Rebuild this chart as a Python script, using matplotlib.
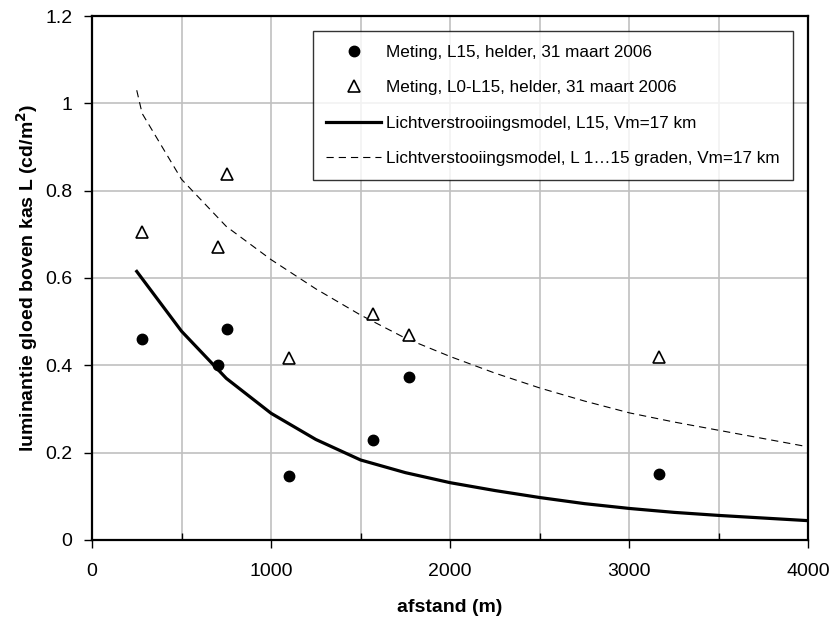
import numpy as np
import matplotlib
matplotlib.use("Agg")
from matplotlib import pyplot as plt

plt.rcParams['font.family'] = ['Liberation Sans', 'DejaVu Sans']

# metingen (afstand in m, luminantie in cd/m2)
afstand_meting = [280, 703, 753, 1100, 1568, 1768, 3168]
L15_meting = [0.461, 0.400, 0.484, 0.146, 0.228, 0.373, 0.150]
L0_L15_meting = [0.705, 0.672, 0.838, 0.416, 0.518, 0.470, 0.420]

# lichtverstrooiingsmodel
afstand_model = [250, 500, 750, 1000, 1250, 1500, 1750, 2000, 2250, 2500,
                 2750, 3000, 3250, 3500, 3750, 4000]
L15_model = [0.615, 0.478, 0.370, 0.290, 0.230, 0.183, 0.154, 0.131, 0.113,
             0.097, 0.083, 0.072, 0.063, 0.056, 0.050, 0.044]
afstand_model2 = [250, 280, 500, 750, 1000, 1250, 1500, 1750, 2000, 2250,
                  2500, 2750, 3000, 3250, 3500, 3750, 4000]
L1_15_model = [1.03, 0.977, 0.826, 0.718, 0.642, 0.575, 0.515, 0.462, 0.420,
               0.382, 0.348, 0.318, 0.291, 0.270, 0.251, 0.232, 0.213]

labels = ['Meting, L15, helder, 31 maart 2006',
          'Meting, L0-L15, helder, 31 maart 2006',
          'Lichtverstrooiingsmodel, L15, Vm=17 km',
          'Lichtverstooiingsmodel, L 1\u202615 graden, Vm=17 km']

fig = plt.figure(figsize=(8.36, 6.17), dpi=100)
ax = fig.add_axes([0.110, 0.125, 0.857, 0.849])

ax.plot(afstand_meting, L15_meting, 'o', color='black', markersize=7.5,
        label=labels[0], zorder=4)
ax.plot(afstand_meting, L0_L15_meting, '^', markerfacecolor='white',
        markeredgecolor='black', markeredgewidth=1.2, markersize=8,
        label=labels[1], zorder=4)
ax.plot(afstand_model, L15_model, '-', color='black', linewidth=2.3,
        label=labels[2], zorder=3)
ax.plot(afstand_model2, L1_15_model, color='black', linewidth=0.8,
        dashes=(6.5, 4.5), label=labels[3], zorder=3)

ax.set_xlim(0, 4000)
ax.set_ylim(0, 1.2)
ax.set_xticks(np.arange(0, 4001, 1000))
ax.set_xticks(np.arange(500, 4000, 1000), minor=True)
ax.set_yticks(np.arange(0, 1.21, 0.2))
ax.set_yticklabels(['0', '0.2', '0.4', '0.6', '0.8', '1', '1.2'])
ax.grid(True, which='both', color='#c0c0c0', linewidth=1.2)
ax.set_axisbelow(True)
ax.tick_params(axis='both', which='major', direction='out', length=6,
               width=1, labelsize=14)
ax.tick_params(axis='x', which='major', pad=11)
ax.tick_params(axis='y', which='major', pad=8)
ax.tick_params(axis='x', which='minor', direction='in', length=5, width=1)
for sp in ax.spines.values():
    sp.set_linewidth(1.6)
    sp.set_color('black')

ax.set_xlabel('afstand (m)', fontsize=14, fontweight='bold', labelpad=13)
ax.set_ylabel('luminantie gloed boven kas L (cd/m$^\\mathbf{2}$)', fontsize=14,
              fontweight='bold', labelpad=4)

leg = ax.legend(loc='upper right', bbox_to_anchor=(0.979, 0.971),
                fontsize=12.3, frameon=True, fancybox=False, numpoints=1,
                handlelength=3.2, handletextpad=0.3, labelspacing=1.2,
                borderpad=0.8, borderaxespad=0)
leg.get_frame().set_edgecolor('black')
leg.get_frame().set_linewidth(1.0)

fig.savefig('out.png', dpi=100)
